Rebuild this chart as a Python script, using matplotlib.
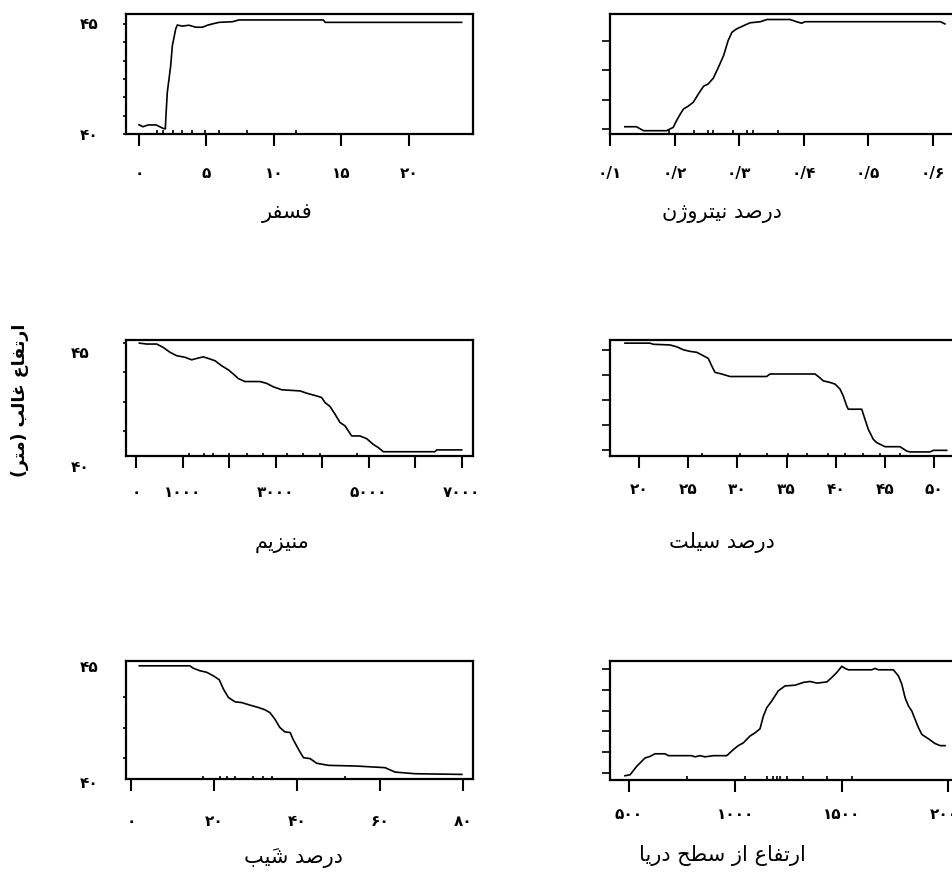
import numpy as np
import matplotlib
matplotlib.use('Agg')
import matplotlib.pyplot as plt
from matplotlib.transforms import offset_copy

# ---------------- data ----------------
phos_x = [0.0, 0.3, 0.67, 1.28, 1.77, 1.95, 2.0, 2.1, 2.35, 2.47, 2.72, 2.84, 3.2, 3.7, 4.2, 4.7,
          5.07, 5.44, 5.93, 6.93, 7.4, 13.65, 13.8, 23.9]
phos_y = [40.42, 40.33, 40.41, 40.41, 40.26, 40.23, 40.83, 41.9, 43.1, 44.0, 44.77, 44.95, 44.9,
          44.94, 44.85, 44.85, 44.94, 45.0, 45.07, 45.1, 45.18, 45.18, 45.07, 45.07]
phos_rug = [1.31, 1.8, 2.5, 3.16, 3.9, 4.9, 5.9, 7.98, 11.6]
phos_ticks = [0, 5, 10, 15, 20]

nitro_x = [0.123, 0.141, 0.147, 0.152, 0.188, 0.193, 0.198, 0.203, 0.209, 0.214, 0.221, 0.229,
           0.237, 0.245, 0.252, 0.260, 0.268, 0.276, 0.283, 0.289, 0.296, 0.307, 0.317, 0.333,
           0.343, 0.379, 0.389, 0.397, 0.402, 0.612, 0.619]
nitro_y = [40.33, 40.33, 40.23, 40.15, 40.15, 40.23, 40.3, 40.6, 40.91, 41.14, 41.26, 41.44,
           41.82, 42.17, 42.27, 42.53, 43.03, 43.56, 44.24, 44.62, 44.77, 44.92, 45.05, 45.1,
           45.2, 45.2, 45.1, 45.03, 45.1, 45.1, 45.0]
nitro_rug = [0.192, 0.230, 0.252, 0.260, 0.290, 0.312, 0.322, 0.361]
nitro_ticks = [0.1, 0.2, 0.3, 0.4, 0.5, 0.6]

mg_x = [72, 230, 445, 587, 731, 875, 1054, 1197, 1305, 1448, 1555, 1699, 1842, 1986, 2093, 2200,
        2344, 2667, 2810, 2953, 3132, 3527, 3670, 3885, 3993, 4065, 4172, 4280, 4387, 4495, 4638,
        4817, 4961, 5104, 5211, 5319, 5677, 6430, 6466, 7004]
mg_y = [45.39, 45.35, 45.35, 45.2, 44.99, 44.84, 44.77, 44.66, 44.72, 44.79, 44.72, 44.62, 44.4,
        44.22, 44.04, 43.84, 43.71, 43.71, 43.63, 43.48, 43.35, 43.3, 43.2, 43.08, 43.01, 42.79,
        42.62, 42.28, 41.92, 41.77, 41.33, 41.33, 41.21, 40.96, 40.82, 40.64, 40.64, 40.64,
        40.72, 40.72]
mg_rug = [1147, 1462, 1663, 2007, 2380, 2738, 3254, 3598, 3957, 4746]
mg_ticks = [0, 1000, 2000, 3000, 4000, 5000, 6000, 7000]
mg_labelled = [0, 1000, 3000, 5000, 7000]

silt_x = [18.54, 21.09, 21.43, 23.13, 23.81, 24.48, 25.16, 25.84, 26.52, 27.03, 27.37, 27.71,
          28.39, 29.24, 32.97, 33.31, 37.89, 38.23, 38.74, 39.42, 39.93, 40.44, 40.77, 41.12,
          41.28, 42.65, 42.98, 43.32, 43.83, 44.17, 45.02, 46.55, 47.23, 47.57, 49.6, 49.94, 51.3]
silt_y = [45.39, 45.39, 45.34, 45.31, 45.23, 45.1, 45.03, 44.99, 44.84, 44.72, 44.4, 44.11,
          44.04, 43.93, 43.93, 44.04, 44.04, 43.93, 43.74, 43.67, 43.6, 43.38, 43.08, 42.64,
          42.5, 42.5, 42.06, 41.62, 41.18, 41.04, 40.86, 40.86, 40.67, 40.63, 40.63, 40.7, 40.7]
silt_rug = [26.35, 30.25, 32.97, 35.17, 37.05, 39.25, 40.95, 42.81, 44.51, 46.55]
silt_ticks = [20, 25, 30, 35, 40, 45, 50]

slope_x = [2.0, 14.2, 15.0, 16.6, 18.3, 19.85, 21.3, 22.3, 23.5, 25.1, 26.7, 28.7, 30.7, 32.3,
           33.5, 34.7, 35.9, 37.1, 38.4, 39.1, 40.4, 41.6, 43.2, 44.8, 47.6, 54.4, 61.3, 63.7,
           68.5, 79.8]
slope_y = [45.01, 45.01, 44.91, 44.8, 44.73, 44.58, 44.41, 44.01, 43.65, 43.46, 43.43, 43.32,
           43.22, 43.12, 43.0, 42.72, 42.36, 42.17, 42.14, 41.85, 41.42, 41.06, 41.02, 40.82,
           40.73, 40.7, 40.63, 40.44, 40.37, 40.34]
slope_rug = [17.4, 21.5, 23.1, 25.1, 29.5, 31.9, 33.9, 51.6]
slope_ticks = [0, 20, 40, 60, 80]

elev_x = [481, 505, 536, 575, 599, 622, 669, 685, 794, 810, 833, 857, 896, 959, 990, 1013, 1037,
          1068, 1092, 1115, 1131, 1147, 1170, 1201, 1233, 1280, 1319, 1350, 1382, 1429, 1452,
          1476, 1499, 1515, 1530, 1640, 1656, 1671, 1741, 1765, 1781, 1796, 1812, 1828, 1843,
          1859, 1875, 1906, 1937, 1961, 1984]
elev_y = [40.3, 40.34, 40.7, 41.06, 41.13, 41.24, 41.24, 41.16, 41.16, 41.11, 41.16, 41.11,
          41.16, 41.16, 41.42, 41.59, 41.71, 42.0, 42.14, 42.31, 42.86, 43.22, 43.5, 43.94,
          44.15, 44.18, 44.3, 44.34, 44.27, 44.32, 44.51, 44.73, 44.99, 44.9, 44.84, 44.84,
          44.9, 44.84, 44.84, 44.58, 44.22, 43.65, 43.29, 43.07, 42.72, 42.36, 42.07, 41.88,
          41.68, 41.59, 41.59]
elev_rug = [771, 1045, 1147, 1178, 1194, 1209, 1241, 1319, 1429, 1546]
elev_ticks = [500, 1000, 1500, 2000]

y_labels = [40, 45]
titles = ['فسفر', 'درصد نیتروژن', 'منیزیم', 'درصد سیلت', 'درصد شیَب', 'ارتفاع از سطح دریا']
ylabel_text = 'ارتفاع غالب (متر)'

# ---------------- Persian text helpers ----------------
FORMS = {
    'ا': ('\uFE8D', '\uFE8E'), 'د': ('\uFEA9', '\uFEAA'), 'ر': ('\uFEAD', '\uFEAE'),
    'ز': ('\uFEAF', '\uFEB0'), 'ژ': ('\uFB8A', '\uFB8B'), 'و': ('\uFEED', '\uFEEE'),
    'ب': ('\uFE8F', '\uFE90', '\uFE91', '\uFE92'), 'ت': ('\uFE95', '\uFE96', '\uFE97', '\uFE98'),
    'ح': ('\uFEA1', '\uFEA2', '\uFEA3', '\uFEA4'), 'س': ('\uFEB1', '\uFEB2', '\uFEB3', '\uFEB4'),
    'ش': ('\uFEB5', '\uFEB6', '\uFEB7', '\uFEB8'), 'ص': ('\uFEB9', '\uFEBA', '\uFEBB', '\uFEBC'),
    'ط': ('\uFEC1', '\uFEC2', '\uFEC3', '\uFEC4'), 'ع': ('\uFEC9', '\uFECA', '\uFECB', '\uFECC'),
    'غ': ('\uFECD', '\uFECE', '\uFECF', '\uFED0'), 'ف': ('\uFED1', '\uFED2', '\uFED3', '\uFED4'),
    'ل': ('\uFEDD', '\uFEDE', '\uFEDF', '\uFEE0'), 'م': ('\uFEE1', '\uFEE2', '\uFEE3', '\uFEE4'),
    'ن': ('\uFEE5', '\uFEE6', '\uFEE7', '\uFEE8'), 'ی': ('\uFBFC', '\uFBFD', '\uFBFE', '\uFBFF'),
}


def is_mark(c):
    return '\u064B' <= c <= '\u0652'


def shape(text):
    chars = list(text.replace('ي', 'ی').replace('ى', 'ی'))
    n = len(chars)

    def neighbour(i, step):
        j = i + step
        while 0 <= j < n and is_mark(chars[j]):
            j += step
        return chars[j] if 0 <= j < n else None

    out = []
    for i, c in enumerate(chars):
        if c in FORMS:
            f = FORMS[c]
            p = neighbour(i, -1)
            q = neighbour(i, 1)
            pj = p in FORMS and len(FORMS[p]) == 4
            nj = q in FORMS and len(f) == 4
            if pj and nj:
                out.append(f[3])
            elif pj:
                out.append(f[1])
            elif nj:
                out.append(f[2])
            else:
                out.append(f[0])
        else:
            out.append(c)
    clusters = []
    for c in out:
        if is_mark(c) and clusters:
            clusters[-1] += c
        else:
            clusters.append(c)
    vis = ''.join(reversed(clusters))
    return vis.translate(str.maketrans('()', ')('))


def fa_num(v):
    s = f"{v:g}".replace('.', '/')
    return s.translate(str.maketrans('0123456789', '۰۱۲۳۴۵۶۷۸۹'))


# ---------------- figure ----------------
W, H = 952, 879
fig = plt.figure(figsize=(W / 100, H / 100), dpi=100)
plt.rcParams['font.family'] = ['DejaVu Sans']
TICK_FS = 11
TITLE_FS = 15

panels = [
    dict(x=phos_x, y=phos_y, rug=phos_rug, ticks=phos_ticks, lab=phos_ticks,
         box=(126, 15, 347, 120), xlim=(-0.96, 24.74), ylim=(40, 45.45),
         yt=np.linspace(40, 45, 7), left=True, pad=14, ypad=20, title=(287, 213)),
    dict(x=nitro_x, y=nitro_y, rug=nitro_rug, ticks=nitro_ticks, lab=nitro_ticks,
         box=(610, 15, 347, 120), xlim=(0.1, 0.6377), ylim=(40, 45.45),
         yt=np.linspace(40.23, 44.23, 4), left=False, pad=14, title=(722, 213)),
    dict(x=mg_x, y=mg_y, rug=mg_rug, ticks=mg_ticks, lab=mg_labelled,
         box=(126, 340.7, 347, 116.6), xlim=(-215, 7247), ylim=(40.44, 45.54),
         yt=np.linspace(41.55, 45.39, 4), left=True, pad=11.5, ypad=26, title=(282, 543)),
    dict(x=silt_x, y=silt_y, rug=silt_rug, ticks=silt_ticks, lab=silt_ticks,
         box=(610, 340.7, 347, 116.6), xlim=(17.02, 52.35), ylim=(40.44, 45.54),
         yt=np.linspace(40.72, 45.1, 5), left=False, pad=9.5, title=(722, 543)),
    dict(x=slope_x, y=slope_y, rug=slope_rug, ticks=slope_ticks, lab=slope_ticks,
         box=(126, 661.7, 347, 118.6), xlim=(-1.2, 82.5), ylim=(40.13, 45.23),
         yt=np.linspace(41.06, 43.65, 3), left=True, pad=16, ypad=20, title=(293, 858)),
    dict(x=elev_x, y=elev_y, rug=elev_rug, ticks=elev_ticks, lab=elev_ticks,
         box=(610, 661.7, 347, 119), xlim=(410.8, 2040), ylim=(40.13, 45.23),
         yt=np.linspace(40.42, 44.87, 6), left=False, pad=10.5, title=(722, 856)),
]

for k, p in enumerate(panels):
    bx, by, bw, bh = p['box']
    ax = fig.add_axes([bx / W, 1 - (by + bh) / H, bw / W, bh / H])
    ax.plot(p['x'], p['y'], color='black', lw=1.2)
    ax.vlines(p['rug'], 0, 0.03, transform=ax.get_xaxis_transform(), color='black', lw=1.2)
    ax.set_xlim(*p['xlim'])
    ax.set_ylim(*p['ylim'])
    for s in ax.spines.values():
        s.set_linewidth(1.6)
    ax.set_xticks(p['ticks'])
    ax.set_xticklabels([fa_num(t) if t in p['lab'] else '' for t in p['ticks']],
                       fontsize=TICK_FS, fontweight='bold')
    ax.tick_params(axis='x', direction='out', length=8.5, width=1.5, pad=p['pad'])
    ax.set_yticks([])
    ax.set_yticks(p['yt'], minor=True)
    ax.tick_params(axis='y', which='minor', direction='out',
                   length=2 if p['left'] else 6, width=1.2)
    if p['left']:
        tr = offset_copy(ax.get_yaxis_transform(), fig=fig, x=-p['ypad'], y=0, units='points')
        for v in y_labels:
            ax.text(0, v, fa_num(v), transform=tr, ha='right', va='center',
                    fontsize=TICK_FS, fontweight='bold')
    tx, ty = p['title']
    fig.text(tx / W, 1 - ty / H, shape(titles[k]), ha='center', va='center', fontsize=TITLE_FS)

fig.text(20 / W, 1 - 400 / H, shape(ylabel_text), rotation=90, ha='center', va='center',
         fontsize=12.5, fontweight='bold')

fig.savefig('out.png', dpi=100, facecolor='white')
